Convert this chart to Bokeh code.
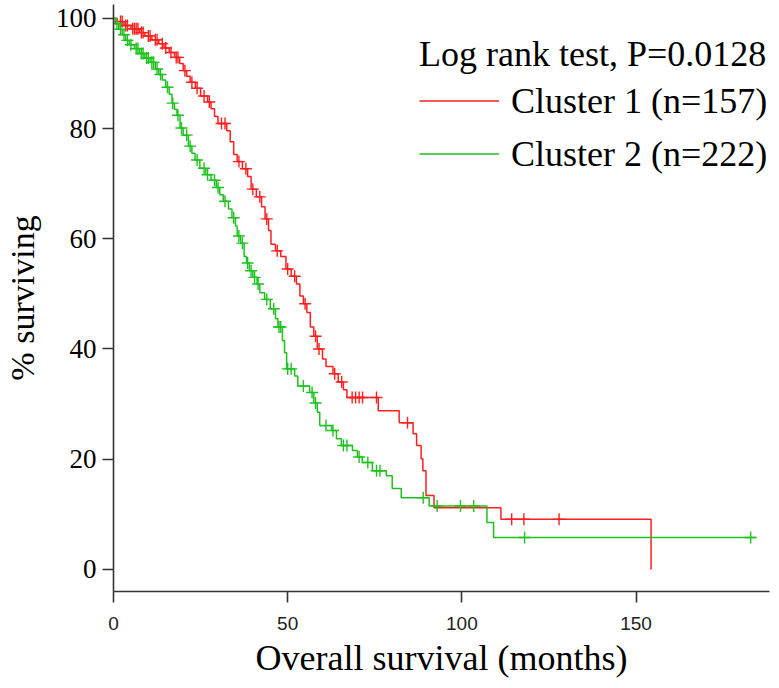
from bokeh.plotting import figure
from bokeh.models import Range1d, FixedTicker, Legend, LegendItem
from bokeh.embed import file_html
from bokeh.resources import INLINE

# ---- data ----
c1_label = "Cluster 1 (n=157)"
c1_times = [0, 1.0, 3.0, 5.0, 7.5, 9.0, 11.0, 13.0, 14.5, 16.0, 17.5, 19.0, 20.0, 21.0, 22.0,
            23.5, 25.0, 27.0, 28.0, 29.0, 30.0, 32.5, 33.5, 34.5, 35.5, 37.0, 38.5, 39.5, 41.0,
            42.5, 43.5, 44.5, 45.2, 46.5, 48.0, 49.5, 51.0, 52.5, 53.5, 54.5, 55.5, 56.5, 57.5,
            58.5, 60.0, 61.0, 63.0, 64.5, 66.0, 67.0, 76.0, 82.0, 86.0, 87.0, 88.3, 88.8, 89.7,
            92.0, 111.2, 154.3]
c1_surv = [100, 99.4, 98.7, 98.1, 97.4, 96.8, 96.1, 95.4, 94.6, 93.8, 92.9, 91.8, 90.5, 89.5, 88.4,
           87.3, 85.9, 84.8, 83.6, 82.2, 80.9, 79.6, 77.6, 75.3, 74.0, 72.7, 71.3, 69.0, 67.6,
           65.8, 63.6, 61.5, 59.0, 57.8, 56.8, 54.5, 53.2, 51.8, 49.6, 48.2, 46.6, 44.0, 42.3,
           40.0, 38.2, 36.8, 35.5, 34.0, 32.6, 31.2, 28.8, 26.6, 24.6, 22.5, 20.1, 17.9, 13.4,
           11.2, 9.1, 0]
c1_censor = [2, 2.5, 3.5, 4, 5.5, 6, 6.5, 7, 8, 8.5, 10, 10.5, 12, 12.5, 14, 15, 16.5, 18, 18.5,
             20.5, 22.5, 24, 26, 27.5, 31, 32, 36, 38, 40, 42, 44, 47, 50, 52, 55, 58, 59, 63.5,
             65.5, 68.5, 69.5, 70.5, 71.5, 75.5, 84.4, 114.3, 117.8, 127.9]

c2_label = "Cluster 2 (n=222)"
c2_times = [0, 0.5, 1.5, 2.5, 3.5, 4.5, 6.0, 7.5, 9.0, 10.5, 12.0, 13.0, 14.0, 15.0, 16.0, 16.8,
            17.5, 18.2, 19.1, 20.0, 21.5, 22.5, 23.4, 24.8, 26.5, 28.0, 29.5, 30.5, 31.5, 33.0,
            34.0, 35.0, 35.5, 36.5, 37.5, 38.2, 39.0, 40.0, 41.2, 42.0, 43.4, 45.0, 46.5, 47.2,
            48.5, 49.1, 49.7, 52.0, 52.9, 56.3, 57.5, 58.5, 59.2, 62.6, 64.0, 65.4, 68.6, 70.0,
            71.4, 74.3, 78.3, 80.0, 82.6, 90.6, 107.2, 109.1, 184.3]
c2_surv = [100, 99.0, 98.0, 97.0, 96.0, 95.2, 94.5, 93.6, 92.8, 92.0, 90.8, 89.8, 88.8, 87.5, 86.2,
           84.6, 83.5, 82.4, 80.1, 78.8, 76.8, 75.5, 74.3, 72.8, 71.6, 70.6, 69.3, 68.0, 66.8,
           65.4, 63.8, 62.3, 60.5, 59.2, 56.8, 55.6, 54.2, 53.0, 51.8, 50.2, 49.0, 47.3, 45.5,
           44.0, 41.5, 39.3, 36.4, 35.1, 33.3, 32.1, 30.2, 28.5, 26.1, 25.2, 23.7, 22.5, 21.6,
           20.4, 19.4, 17.9, 17.0, 14.7, 13.0, 11.5, 8.5, 5.8, 5.8]
c2_censor = [1, 2, 3, 4, 5, 6.5, 7, 8, 8.5, 9.5, 10, 11, 11.5, 12.5, 13.5, 15.5, 17, 18.5, 19.5,
             21, 22, 24, 26, 27, 29, 30, 32, 34.5, 36, 37, 38.5, 39.5, 40.5, 41.5, 44, 46, 47.5,
             48, 50, 51, 54.5, 57, 58, 61, 63, 66, 67, 70.5, 73, 75.5, 76.5, 88.9, 92.9, 99.6,
             103.4, 118, 182.9]

title_text = "Log rank test, P=0.0128"
x_ticks = [0, 50, 100, 150]
y_ticks = [0, 20, 40, 60, 80, 100]
x_title = "Overall survival (months)"
y_title = "% surviving"

RED = "#ff1f1f"
GREEN = "#1ec21e"
SERIF = "Liberation Serif"


def surv_at(times, surv, t):
    s = surv[0]
    for ti, si in zip(times, surv):
        if ti <= t:
            s = si
        else:
            break
    return s


p = figure(width=771, height=680, output_backend="svg", toolbar_location=None,
           x_range=Range1d(0, 188.3), y_range=Range1d(-4.0, 102.5),
           min_border_left=110, min_border_right=2, min_border_top=4, min_border_bottom=84)
p.outline_line_color = None
p.xgrid.visible = False
p.ygrid.visible = False
p.background_fill_color = "white"

r1 = p.step(c1_times, c1_surv, mode="after", line_color=RED, line_width=1.5)
r2 = p.step(c2_times, c2_surv, mode="after", line_color=GREEN, line_width=1.5)

p.scatter(c1_censor, [surv_at(c1_times, c1_surv, t) for t in c1_censor], marker="cross",
          size=12, line_color=RED, line_width=1.4)
p.scatter(c2_censor, [surv_at(c2_times, c2_surv, t) for t in c2_censor], marker="cross",
          size=12, line_color=GREEN, line_width=1.4)

for ax in (p.xaxis[0], p.yaxis[0]):
    ax.axis_line_color = "#333333"
    ax.axis_line_width = 1.6
    ax.major_tick_line_color = "#333333"
    ax.major_tick_line_width = 1.6
    ax.major_tick_out = 11
    ax.major_tick_in = 0
    ax.minor_tick_line_color = None
    ax.axis_label_text_font = SERIF
    ax.axis_label_text_font_style = "normal"
    ax.axis_label_text_color = "black"

p.xaxis.ticker = FixedTicker(ticks=x_ticks)
p.yaxis.ticker = FixedTicker(ticks=y_ticks)
p.xaxis.axis_label = x_title
p.yaxis.axis_label = y_title
p.xaxis.axis_label_text_font_size = "36px"
p.yaxis.axis_label_text_font_size = "34px"
p.xaxis.major_label_text_font = "Liberation Sans"
p.xaxis.major_label_text_font_size = "19px"
p.xaxis.major_label_text_color = "#222222"
p.xaxis.major_label_standoff = 14
p.xaxis.axis_label_standoff = 5
p.yaxis.major_label_text_font = SERIF
p.yaxis.major_label_text_font_size = "27px"
p.yaxis.major_label_text_color = "black"
p.yaxis.major_label_standoff = 6
p.yaxis.axis_label_standoff = 12

legend = Legend(items=[LegendItem(label=c1_label, renderers=[r1]),
                       LegendItem(label=c2_label, renderers=[r2])],
                location=(306, 412), title=title_text)
legend.title_text_font = SERIF
legend.title_text_font_size = "36px"
legend.title_text_font_style = "normal"
legend.title_text_color = "black"
legend.title_standoff = 0
legend.label_text_font = SERIF
legend.label_text_font_size = "36px"
legend.label_text_color = "black"
legend.label_standoff = 12
legend.glyph_width = 80
legend.glyph_height = 51
legend.label_height = 51
legend.spacing = 2
legend.padding = 0
legend.margin = 0
legend.border_line_color = None
legend.background_fill_alpha = 0
p.add_layout(legend)

open("out.html", "w").write(file_html(p, INLINE))
